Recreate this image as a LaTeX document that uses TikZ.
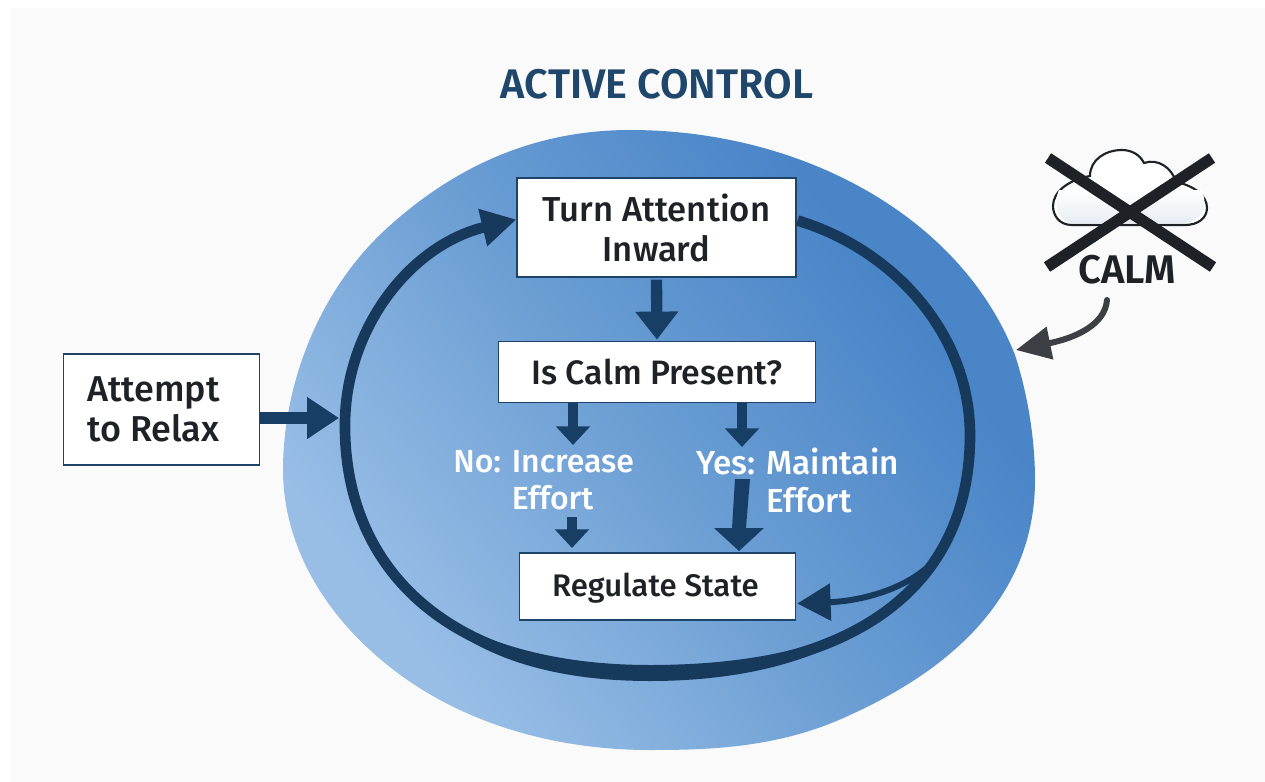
\documentclass[tikz,border=0pt]{standalone}
\usepackage{fontspec}
\setmainfont{Fira Sans}
\newfontfamily\medfont{Fira Sans Medium}
\newfontfamily\boldfont{Fira Sans SemiBold}
\usetikzlibrary{arrows.meta,calc}
\definecolor{navy}{HTML}{173F66}
\definecolor{loopc}{HTML}{17395C}
\definecolor{titlec}{HTML}{1F466B}
\definecolor{edgec}{HTML}{1D4468}
\definecolor{panel}{HTML}{FAFAFA}
\definecolor{blobA}{HTML}{98BEE6}
\definecolor{blobM}{HTML}{6A9DD3}
\definecolor{blobB}{HTML}{4A85C8}
\definecolor{inkc}{HTML}{1E2227}
\definecolor{curvec}{HTML}{3C3F43}
\definecolor{cloudm}{HTML}{D2D6DB}
\definecolor{cloudb}{HTML}{E6EDF3}
\pgfdeclareverticalshading{blobshade}{100bp}{color(0bp)=(blobA); color(27bp)=(blobA); color(50bp)=(blobM); color(70bp)=(blobB); color(100bp)=(blobB)}
\tikzset{
  px/.style={x=0.75pt,y=-0.75pt},
  boxn/.style={draw=edgec,line width=1.1pt,fill=white,align=center,text=inkc,inner sep=0pt},
  lbl/.style={align=left,text=white,inner sep=0pt},
  flow/.style={draw=navy,line width=8.5pt,-{Triangle[length=21pt,width=31pt]}},
  smallflow/.style={draw=navy,line width=8pt,-{Triangle[length=14pt,width=25pt]}},
  ring/.style={draw=loopc,line width=8pt},
  xbar/.style={draw=inkc,line width=8.5pt},
}
\newcommand{\fsz}[1]{\medfont\fontsize{#1}{30}\selectfont}
\newcommand{\lsz}[1]{\medfont\fontsize{#1}{28}\selectfont}
\begin{document}
\begin{tikzpicture}[px]
\useasboundingbox (0,0) rectangle (1265,782);
\fill[white] (0,0) rectangle (1265,782);
\fill[panel] (10,8) rectangle (1265,782);
% blob
\shade[shading=blobshade,shading angle=-52]
 (630,130) .. controls (800,130) and (960,215) .. (1015,355)
 .. controls (1028,395) and (1035,440) .. (1035,480)
 .. controls (1035,590) and (960,665) .. (850,715)
 .. controls (780,748) and (710,750) .. (650,750)
 .. controls (540,750) and (440,715) .. (370,650)
 .. controls (310,595) and (283,530) .. (283,470)
 .. controls (283,390) and (315,295) .. (385,230)
 .. controls (450,170) and (530,130) .. (630,130) -- cycle;
% title
\node[text=titlec,font=\boldfont\fontsize{31}{36}\selectfont,inner sep=0pt] (title) at (657,84) {ACTIVE CONTROL};
% boxes
\node[boxn,font=\fsz{26},minimum width=209pt,minimum height=74pt] (turn) at (656.5,227.5) {Turn Attention\\Inward};
\node[boxn,font=\fsz{25.4},minimum width=238pt,minimum height=46pt] (calm) at (657,372) {Is Calm Present?};
\node[boxn,font=\fsz{23.4},minimum width=207pt,minimum height=50pt] (reg) at (657.5,586.5) {\raisebox{0pt}[\dimexpr\height+3pt\relax]{Regulate State\kern3pt}};
\node[boxn,font=\fsz{27},minimum width=147pt,minimum height=83pt] (attempt) at (161.5,409.5) {Attempt\kern12pt\\to Relax\kern12pt};
% labels
\node[lbl,anchor=west,font=\lsz{24}] (no) at (453,480.5) {No: Increase\\\phantom{No: }Effort};
\node[lbl,anchor=west,font=\lsz{25}] (yes) at (696,480.5) {Yes: Maintain\\\phantom{Yes: }Effort};
% ring
\coordinate (ringend) at ($(turn.west)+(0,-8)$);
\coordinate (ringstart) at ($(turn.east)+(1,-7)$);
\draw[ring,-{Triangle[length=26pt,width=27pt]}] (ringstart)
 .. controls (895,250) and (970,335) .. (970,435)
 .. controls (970,600) and (835,673) .. (650,673)
 .. controls (455,673) and (347,575) .. (345,430)
 .. controls (343,330) and (410,245) .. (ringend);
% heavier bottom of the ring
\fill[loopc] (425,606) .. controls (479,642) and (552,665) .. (650,665)
 .. controls (742,665) and (820,650) .. (879,616)
 .. controls (826,661) and (742,681) .. (650,681)
 .. controls (552,681) and (474,657) .. (425,606) -- cycle;
% return branch
\coordinate (branch) at (932,563);
\coordinate (regin) at ($(reg.east)+(1,17)$);
\draw[draw=loopc,line width=4.5pt,-{Triangle[length=25pt,width=27pt]}] (branch) .. controls (905,590) and (860,601) .. (regin);
% flow arrows
\draw[flow] ($(turn.south)+(0,2)$) -- ($(calm.north)+(0,-1)$);
\draw[smallflow] (573,403) -- (573,445);
\draw[smallflow] (742,403) -- (742,447);
\draw[smallflow] (572,517) -- (572,548);
\path[fill=navy] (735,479) -- (750,479) -- (746,528) -- (764,528) -- (739,551) -- (714,528) -- (732,528) -- cycle;
% attempt arrow
\draw[draw=navy,line width=9pt,-{Triangle[length=24pt,width=30pt]}] (attempt.east |- 418,418) -- (339,418);
% cloud
\path[draw=inkc,line width=1.6pt,fill=white] (1072,225)
 .. controls (1058,225) and (1053,214) .. (1053,206)
 .. controls (1053,192) and (1068,180) .. (1090,176)
 .. controls (1090,160) and (1105,150) .. (1122,150)
 .. controls (1132,150) and (1140,155) .. (1144,163)
 .. controls (1158,158) and (1172,168) .. (1176,182)
 .. controls (1195,186) and (1207,196) .. (1207,208)
 .. controls (1207,218) and (1198,225) .. (1185,225) -- cycle;
\path[top color=white,middle color=cloudm,bottom color=cloudb] (1059,190) .. controls (1052,205) and (1060,222) .. (1072,223) -- (1185,223)
 .. controls (1200,222) and (1210,205) .. (1201,190) -- cycle;
\coordinate (xa) at (1048,158);
\coordinate (xb) at (1213,267);
\coordinate (xc) at (1212,158);
\coordinate (xd) at (1047,267);
\draw[xbar] (xa) -- (xb);
\draw[xbar] (xc) -- (xd);
\node[text=inkc,font=\boldfont\fontsize{30}{34}\selectfont,inner sep=0pt] (calmword) at (1127,270) {CALM};
% calm arrow
\coordinate (blobedge) at (1016,350);
\draw[draw=curvec,line width=4.5pt,line cap=round,-{Triangle[length=26pt,width=24pt]}] (1107,300) .. controls (1105,325) and (1075,338) .. (blobedge);
\end{tikzpicture}
\end{document}
